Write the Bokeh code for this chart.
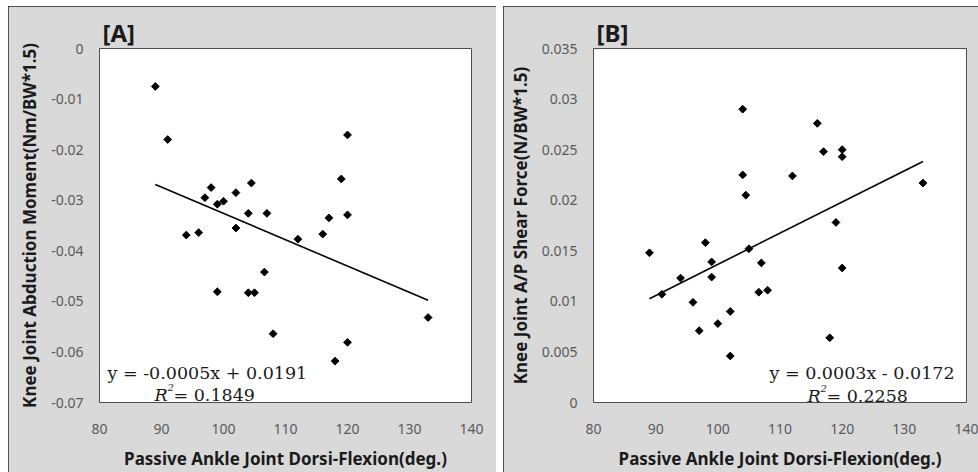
import numpy as np
from bokeh.plotting import figure
from bokeh.layouts import row, column
from bokeh.models import Label, FixedTicker, Range1d, Title, Spacer
from bokeh.embed import file_html
from bokeh.resources import INLINE

# ---- data ----
dorsi_flexion = [89, 91, 94, 96, 97, 98, 99, 99, 100, 102, 102, 104, 104, 104.5,
                 105, 106.6, 107, 108, 112, 116, 117, 118, 119, 120, 120, 120, 133]
abduction_moment = [-0.0075, -0.0180, -0.0369, -0.0364, -0.0295, -0.0275, -0.0308,
                    -0.0481, -0.0302, -0.0285, -0.0355, -0.0326, -0.0483, -0.0266,
                    -0.0483, -0.0442, -0.0326, -0.0564, -0.0377, -0.0367, -0.0335,
                    -0.0618, -0.0258, -0.0171, -0.0329, -0.0581, -0.0532]
shear_force = [0.0148, 0.0107, 0.0123, 0.0099, 0.0071, 0.0158, 0.0139, 0.0124,
               0.0078, 0.0090, 0.0046, 0.0290, 0.0225, 0.0205, 0.0152, 0.0109,
               0.0138, 0.0111, 0.0224, 0.0276, 0.0248, 0.0064, 0.0178, 0.0250,
               0.0243, 0.0133, 0.0217]

x_ticks = [80, 90, 100, 110, 120, 130, 140]
x_tick_labels = ["80", "90", "100", "110", "120", "130", "140"]
ya_ticks = [0, -0.01, -0.02, -0.03, -0.04, -0.05, -0.06, -0.07]
ya_tick_labels = ["0", "-0.01", "-0.02", "-0.03", "-0.04", "-0.05", "-0.06", "-0.07"]
yb_ticks = [0, 0.005, 0.01, 0.015, 0.02, 0.025, 0.03, 0.035]
yb_tick_labels = ["0", "0.005", "0.01", "0.015", "0.02", "0.025", "0.03", "0.035"]

panel_a = "[A]"
panel_b = "[B]"
x_title = "Passive Ankle Joint Dorsi-Flexion(deg.)"
ya_title = "Knee Joint Abduction Moment(Nm/BW*1.5)"
yb_title = "Knee Joint A/P Shear Force(N/BW*1.5)"
eq_a = "y = -0.0005x + 0.0191"
r2_a = "= 0.1849"
eq_b = "y = 0.0003x - 0.0172"
r2_b = "= 0.2258"

BG = "#d9d9d9"
TICK_C = "#595959"
TXT_C = "#1a1a1a"
SANS = "Noto Sans"
SERIF = "DejaVu Serif"
H = 466


def make_panel(width, yrange, yticks, ylabels, ys, borders, letter, ytitle):
    p = figure(width=width, height=H, output_backend="svg", toolbar_location=None,
               x_range=Range1d(80, 140), y_range=Range1d(*yrange),
               min_border_left=borders[0], min_border_right=borders[1],
               min_border_top=borders[2], min_border_bottom=borders[3])
    p.border_fill_color = BG
    p.background_fill_color = "white"
    p.outline_line_color = "#4d4d4d"
    p.outline_line_width = 1
    p.grid.visible = False
    for ax, ticks, labels in ((p.xaxis, x_ticks, x_tick_labels), (p.yaxis, yticks, ylabels)):
        ax.ticker = FixedTicker(ticks=ticks)
        ax.major_label_overrides = {t: l for t, l in zip(ticks, labels)}
        ax.axis_line_color = None
        ax.major_tick_line_color = None
        ax.minor_tick_line_color = None
        ax.major_tick_out = 0
        ax.major_tick_in = 0
        ax.major_label_text_font = SANS
        ax.major_label_text_font_size = "14px"
        ax.major_label_text_color = TICK_C
        ax.axis_label_text_font = SANS
        ax.axis_label_text_font_style = "bold"
        ax.axis_label_text_color = TXT_C
    p.yaxis.major_label_standoff = 16
    p.xaxis.major_label_standoff = 21
    p.xaxis.axis_label = x_title
    p.xaxis.axis_label_text_font_size = "17px"
    p.xaxis.axis_label_standoff = 10
    p.yaxis.axis_label = ytitle
    p.yaxis.axis_label_text_font_size = "17px"
    p.yaxis.axis_label_standoff = 7
    p.add_layout(Title(text=letter, align="left", offset=3, standoff=-1,
                       text_font=SANS, text_font_size="24px", text_font_style="bold",
                       text_color=TXT_C), "above")
    p.scatter(dorsi_flexion, ys, marker="square", angle=np.pi / 4, size=5.5,
              fill_color="black", line_color="black")
    slope, icpt = np.polyfit(dorsi_flexion, ys, 1)
    xs = [min(dorsi_flexion), max(dorsi_flexion)]
    p.line(xs, [slope * v + icpt for v in xs], line_color="black", line_width=1.6)
    p.styles = {"outline": "1px solid #262626", "outline-offset": "-1px"}
    return p


def lab(p, x, y, text, size, font=SERIF, style="normal"):
    p.add_layout(Label(x=x, y=y, x_units="screen", y_units="screen", text=text,
                       text_font=font, text_font_size=size, text_font_style=style,
                       text_color=TXT_C, text_baseline="alphabetic", text_align="left"))


def eq(p, x1, y1, t1, xr, yr, t2):
    lab(p, x1, y1, t1, "17.5px")
    lab(p, xr, yr, "R", "17.5px", style="italic")
    lab(p, xr + 13, yr + 7, "2", "10px", style="italic")
    lab(p, xr + 19, yr, t2, "17.5px")


pA = make_panel(488, (-0.07, 0), ya_ticks, ya_tick_labels, abduction_moment,
                (91, 25, 42, 69), panel_a, ya_title)
pB = make_panel(475, (0, 0.035), yb_ticks, yb_tick_labels, shear_force,
                (90, 12, 41, 67), panel_b, yb_title)

# equations (screen units measured from the frame's bottom-left corner)
eq(pA, 8, 30, eq_a, 55, 8, r2_a)
eq(pB, 176, 30, eq_b, 214, 7, r2_b)

layout = column(Spacer(height=6),
                row(Spacer(width=8), pA, Spacer(width=7), pB, spacing=0),
                spacing=0)
open("out.html", "w").write(file_html(layout, INLINE))
